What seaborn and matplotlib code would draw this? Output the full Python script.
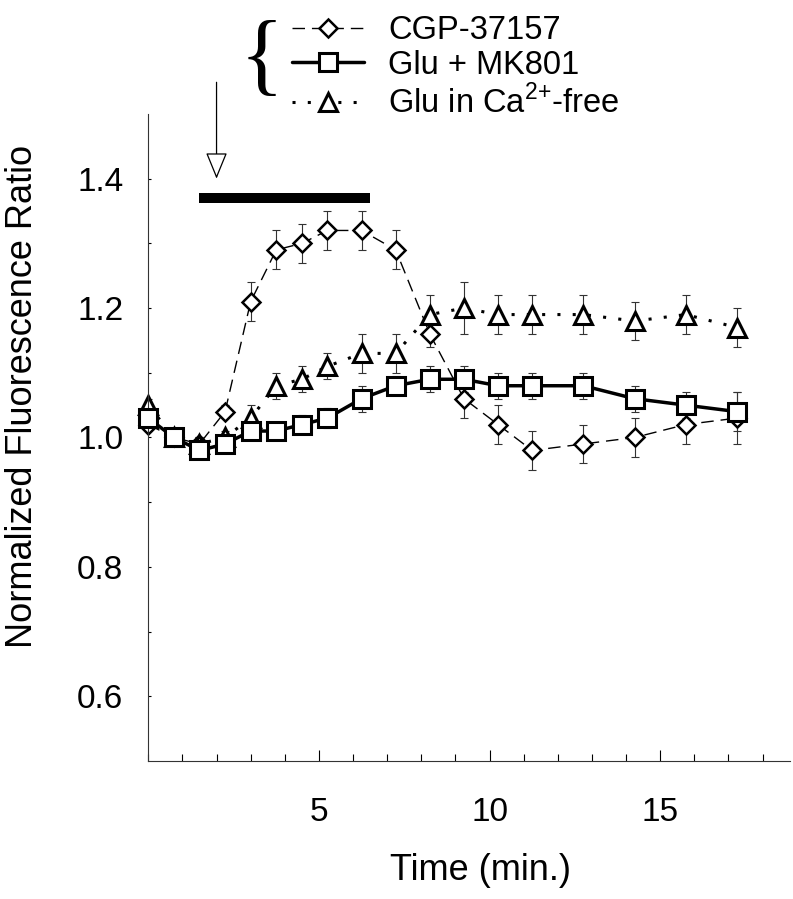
import matplotlib
matplotlib.use("Agg")
import matplotlib.pyplot as plt
import seaborn as sns
from matplotlib.ticker import MultipleLocator, FixedLocator

sns.set_style("ticks")
plt.rcParams["font.family"] = ["Liberation Sans", "DejaVu Sans"]
plt.rcParams["mathtext.fontset"] = "custom"
plt.rcParams["mathtext.rm"] = "Liberation Sans"
plt.rcParams["text.color"] = "black"
plt.rcParams["xtick.color"] = "black"
plt.rcParams["ytick.color"] = "black"

# time points (min)
time = [0, 0.75, 1.5, 2.25, 3, 3.75, 4.5, 5.25, 6.25, 7.25, 8.25, 9.25,
        10.25, 11.25, 12.75, 14.25, 15.75, 17.25]

cgp = [1.02, 1.00, 0.99, 1.04, 1.21, 1.29, 1.30, 1.32, 1.32, 1.29, 1.16, 1.06,
       1.02, 0.98, 0.99, 1.00, 1.02, 1.03]
cgp_err = [0.01, 0.01, 0.01, 0.01, 0.03, 0.03, 0.03, 0.03, 0.03, 0.03, 0.02, 0.03,
           0.03, 0.03, 0.03, 0.03, 0.03, 0.04]

mk801 = [1.03, 1.00, 0.98, 0.99, 1.01, 1.01, 1.02, 1.03, 1.06, 1.08, 1.09, 1.09,
         1.08, 1.08, 1.08, 1.06, 1.05, 1.04]
mk801_err = [0.01, 0.01, 0.01, 0.01, 0.01, 0.01, 0.015, 0.015, 0.02, 0.015, 0.02, 0.02,
             0.02, 0.02, 0.02, 0.02, 0.02, 0.03]

cafree = [1.05, 1.00, 0.99, 1.00, 1.03, 1.08, 1.09, 1.11, 1.13, 1.13, 1.19, 1.20,
          1.19, 1.19, 1.19, 1.18, 1.19, 1.17]
cafree_err = [0.01, 0.01, 0.01, 0.01, 0.02, 0.02, 0.02, 0.02, 0.03, 0.03, 0.03, 0.04,
              0.03, 0.03, 0.03, 0.03, 0.03, 0.03]

labels = ["CGP-37157", "Glu + MK801", "Glu in Ca$^{2{+}}$-free"]

# glutamate application (bar) and arrow time
glu_start, glu_end = 1.5, 6.5
arrow_time = 2.0

fig = plt.figure(figsize=(7.93, 8.99), dpi=100)
ax = fig.add_axes([0.187, 0.1535, 0.809, 0.7197])

err_kw = dict(fmt="none", ecolor="#333333", elinewidth=0.8, capsize=3, capthick=0.8, zorder=1.5)
ax.errorbar(time, cafree, yerr=cafree_err, **err_kw)
ax.errorbar(time, cgp, yerr=cgp_err, **err_kw)
ax.errorbar(time, mk801, yerr=mk801_err, **err_kw)

sns.lineplot(x=time, y=cgp, ax=ax, color="black", lw=1.0, linestyle=(0, (9, 5)),
             marker="D", markersize=9.5, markerfacecolor="white",
             markeredgecolor="black", markeredgewidth=1.8, label=labels[0],
             zorder=2, clip_on=False)
sns.lineplot(x=time, y=mk801, ax=ax, color="black", lw=2.5, linestyle="-",
             marker="s", markersize=12.5, markerfacecolor="white",
             markeredgecolor="black", markeredgewidth=2.2, label=labels[1],
             zorder=3, clip_on=False)
sns.lineplot(x=time, y=cafree, ax=ax, color="black", lw=2.2, linestyle=(0, (1, 4)),
             marker="^", markersize=12.5, markerfacecolor="white",
             markeredgecolor="black", markeredgewidth=2.2, label=labels[2],
             zorder=2.5, clip_on=False)

# stimulus bar and arrow
ax.plot([glu_start, glu_end], [1.37, 1.37], color="black", lw=7.2, solid_capstyle="butt")
ax.annotate("", xy=(arrow_time, 1.40), xytext=(arrow_time, 1.549),
            arrowprops=dict(arrowstyle="-|>,head_length=0.83,head_width=0.34",
                            mutation_scale=20, fc="white", ec="black", lw=0.9,
                            shrinkA=0, shrinkB=0),
            annotation_clip=False)

ax.set_xlim(0, 18.8)
ax.set_ylim(0.5, 1.5)
ax.xaxis.set_major_locator(FixedLocator([5, 10, 15]))
ax.xaxis.set_minor_locator(MultipleLocator(1))
ax.yaxis.set_major_locator(FixedLocator([0.6, 0.8, 1.0, 1.2, 1.4]))
ax.yaxis.set_minor_locator(FixedLocator([0.7, 0.9, 1.1, 1.3]))
ax.set_yticklabels(["0.6", "0.8", "1.0", "1.2", "1.4"])
ax.tick_params(axis="x", which="major", direction="in", length=8, width=0.8, labelsize=24, pad=26)
ax.tick_params(axis="x", which="minor", direction="in", length=5, width=0.8)
ax.tick_params(axis="y", which="both", direction="in", length=2.5, width=0.8, labelsize=24, pad=18)
sns.despine(ax=ax)
for s in ["left", "bottom"]:
    ax.spines[s].set_linewidth(0.8)
    ax.spines[s].set_color("#333333")

ax.set_xlabel("")
ax.set_ylabel("")
fig.text(480.5 / 793, 1 - 870 / 899, "Time (min.)", fontsize=26, ha="center", va="center")
fig.text(23 / 793, 1 - 396.5 / 899, "Normalized Fluorescence Ratio", fontsize=26,
         rotation=90, ha="center", va="center")

ax.legend(loc="upper left", bbox_to_anchor=(292 / 793, 1 - 15 / 899),
          bbox_transform=fig.transFigure, frameon=False, fontsize=23.5,
          handlelength=2.2, handletextpad=0.75, labelspacing=0.12, borderpad=0,
          borderaxespad=0)
fig.text(262 / 793, 1 - 62 / 899, "{", family="Liberation Serif", fontsize=66,
         ha="center", va="center")

fig.savefig("out.png", dpi=100)
